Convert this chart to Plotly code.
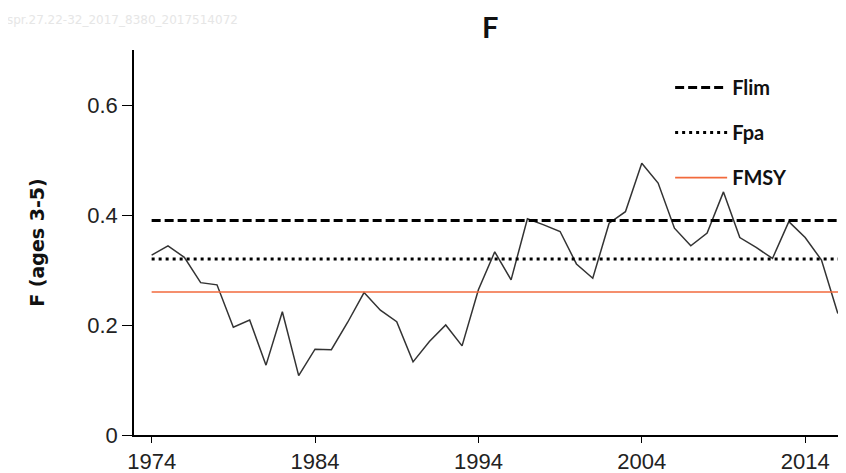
import plotly.graph_objects as go

years = list(range(1974, 2017))
f_values = [0.327, 0.344, 0.323, 0.277, 0.273, 0.196, 0.209, 0.127, 0.224, 0.108,
            0.156, 0.155, 0.205, 0.259, 0.227, 0.206, 0.133, 0.170, 0.200, 0.162,
            0.264, 0.333, 0.282, 0.393, 0.382, 0.370, 0.311, 0.285, 0.385, 0.406,
            0.494, 0.458, 0.376, 0.344, 0.367, 0.442, 0.359, 0.341, 0.321, 0.388,
            0.359, 0.318, 0.221]
flim = 0.39
fpa = 0.32
fmsy = 0.26
x_ticks = [1974, 1984, 1994, 2004, 2014]
y_ticks = [0, 0.2, 0.4, 0.6]
y_tick_text = ["0", "0.2", "0.4", "0.6"]
x_range = [1972.92, 2016.5]
y_range = [0, 0.7]
chart_title = "F"

tick_font = dict(family="Liberation Sans, Arial, sans-serif", size=22, color="#222222")
bold_font = "Lato, Open Sans, sans-serif"

fig = go.Figure()
fig.add_trace(go.Scatter(x=years, y=f_values, mode="lines",
                         line=dict(color="#333333", width=1.5), showlegend=False))
fig.add_trace(go.Scatter(x=[years[0], x_range[1]], y=[flim, flim], mode="lines",
                         name="<b>Flim</b>", legendgroup="a",
                         line=dict(color="#000000", width=3, dash="9px,4px")))
fig.add_trace(go.Scatter(x=[years[0], x_range[1]], y=[fpa, fpa], mode="lines",
                         name="<b>Fpa</b>", legendgroup="b",
                         line=dict(color="#000000", width=3, dash="3px,4px")))
fig.add_trace(go.Scatter(x=[years[0], x_range[1]], y=[fmsy, fmsy], mode="lines",
                         name="<b>FMSY</b>", legendgroup="c",
                         line=dict(color="#F26A3C", width=1.6)))

fig.update_layout(
    width=838, height=465,
    margin=dict(l=126, r=0, t=42, b=38),
    plot_bgcolor="white", paper_bgcolor="white",
    legend=dict(x=0.753, y=0.953, xanchor="left", yanchor="top",
                font=dict(family=bold_font, size=20, color="#111"),
                tracegroupgap=16, bgcolor="rgba(0,0,0,0)", itemwidth=52),
    xaxis=dict(range=x_range, tickvals=x_ticks, showline=True, linecolor="black", linewidth=1.5,
               ticks="outside", ticklen=6, tickcolor="black", tickfont=tick_font,
               showgrid=False, zeroline=False),
    yaxis=dict(range=y_range, tickvals=y_ticks, ticktext=y_tick_text, showline=True,
               linecolor="black", linewidth=1.5, ticks="outside", ticklen=10, tickcolor="black",
               tickfont=tick_font, showgrid=False, zeroline=False,
               title=dict(text="<b>F (ages 3-5)</b>", standoff=38,
                          font=dict(family="DejaVu Sans, sans-serif", size=19, color="#111"))),
    annotations=[
        dict(text="<b>" + chart_title + "</b>", x=0.5, y=1.062, xref="paper", yref="paper",
             xanchor="center", yanchor="middle", showarrow=False,
             font=dict(family=bold_font, size=29, color="#111")),
        dict(text="spr.27.22-32_2017_8380_2017514072", x=-0.181, y=1.078,
             xref="paper", yref="paper", xanchor="left", yanchor="middle",
             showarrow=False,
             font=dict(family="DejaVu Sans, sans-serif", size=12, color="#e6e6e6")),
    ],
)

fig.write_html("out.html")
